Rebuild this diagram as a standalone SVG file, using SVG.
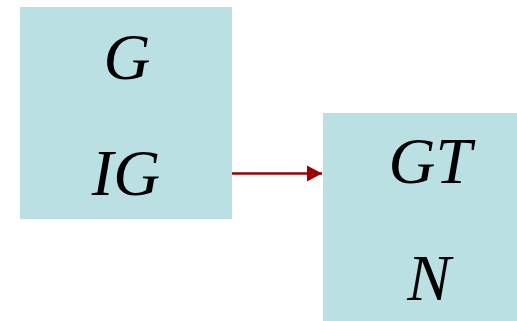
<svg xmlns="http://www.w3.org/2000/svg" width="517" height="321" viewBox="0 0 517 321">
<style>
.box{fill:#bae0e3;}
.t{font-family:"Liberation Serif","Times New Roman",serif;font-style:italic;font-size:65px;fill:#000;text-anchor:middle;}
.c{stroke:#9b0000;stroke-width:2.5;fill:none;}
</style>
<defs>
<marker id="ah" markerUnits="userSpaceOnUse" markerWidth="16" markerHeight="18" refX="15" refY="9" orient="auto">
<path d="M0,1 L15,9 L0,17 Z" fill="#9b0000"/>
</marker>
</defs>
<rect width="517" height="321" fill="#fff"/>
<g id="node1">
<rect class="box" x="20" y="7" width="212" height="212"/>
<text class="t" x="127" y="79">G</text>
<text class="t" x="126" y="195">IG</text>
</g>
<g id="node2">
<rect class="box" x="323" y="113" width="212" height="212"/>
<text class="t" x="430" y="183">GT</text>
<text class="t" x="429" y="300">N</text>
</g>
<g id="connectors">
<line class="c" x1="232" y1="173.5" x2="322" y2="173.5" marker-end="url(#ah)"/>
</g>
</svg>
